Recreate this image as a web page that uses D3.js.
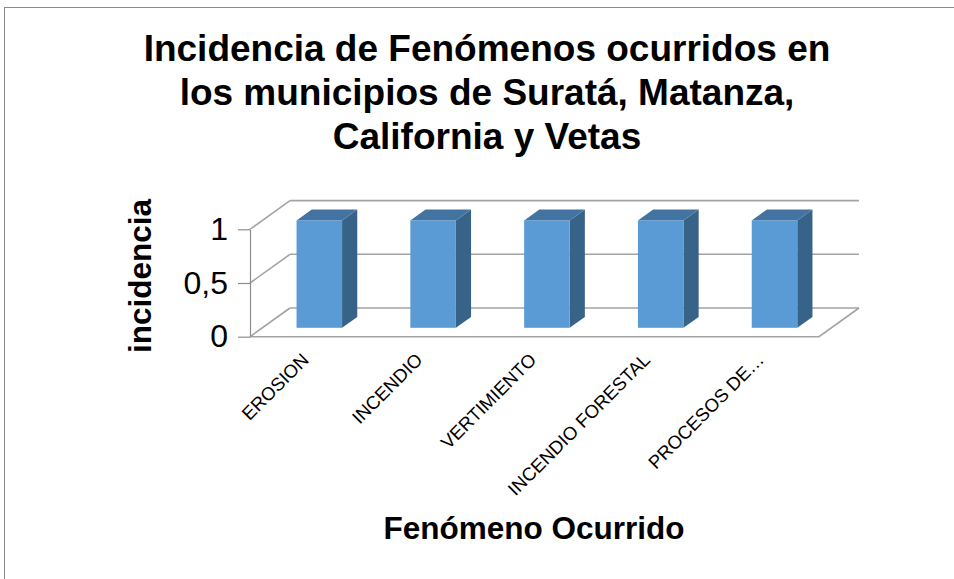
<!DOCTYPE html>
<html>
<head>
<meta charset="utf-8">
<script src="https://cdn.jsdelivr.net/npm/d3@7"></script>
<style>
  html, body { margin: 0; padding: 0; background: #fff; }
  svg { display: block; }
</style>
</head>
<body>
<script>
// chart data
const titleLines = ["Incidencia de Fenómenos ocurridos en", "los municipios de Suratá, Matanza,", "California y Vetas"];
const categories = ["EROSION", "INCENDIO", "VERTIMIENTO", "INCENDIO FORESTAL", "PROCESOS DE…"];
const incidencia = [1, 1, 1, 1, 1];
const yTicks = [0, 0.5, 1];
const xTitle = "Fenómeno Ocurrido";
const yTitle = "incidencia";

const width = 954, height = 579;
const font = "Arial, 'Liberation Sans', sans-serif";

// front plane of the 3D box
const plot = { left: 250, right: 819, top: 229.3, bottom: 336.7 };
const depth = { dx: 40, dy: 28.7 };     // offset of back wall
const barZ = [0.31, 0.69];               // bar depth inside the box

const svg = d3.select("body").append("svg")
    .attr("width", width)
    .attr("height", height)
    .attr("font-family", font);

// outer border (only top and left visible)
svg.append("rect")
    .attr("x", 4.5).attr("y", 7.5)
    .attr("width", 1000).attr("height", 1000)
    .attr("fill", "none")
    .attr("stroke", "#8a8a8a")
    .attr("stroke-width", 1);

const x = d3.scaleBand()
    .domain(categories)
    .range([plot.left, plot.right])
    .paddingInner(0.6)
    .paddingOuter(0.3);

const y = d3.scaleLinear()
    .domain([0, 1])
    .range([plot.bottom, plot.top]);

const grid = "#a3a3a3";
const g = svg.append("g");

// back wall gridlines + side wall diagonals
yTicks.forEach(v => {
    g.append("line")
        .attr("x1", plot.left + depth.dx).attr("y1", y(v) - depth.dy)
        .attr("x2", plot.right + depth.dx).attr("y2", y(v) - depth.dy)
        .attr("stroke", grid).attr("stroke-width", 1.6);
    g.append("line")
        .attr("x1", plot.left).attr("y1", y(v))
        .attr("x2", plot.left + depth.dx).attr("y2", y(v) - depth.dy)
        .attr("stroke", grid).attr("stroke-width", 1.6);
});

// floor front and right edge
g.append("path")
    .attr("d", d3.line()([
        [plot.left, y(0)],
        [plot.right, y(0)],
        [plot.right + depth.dx, y(0) - depth.dy]
    ]))
    .attr("fill", "none")
    .attr("stroke", grid).attr("stroke-width", 1.6);

// bars
const bw = x.bandwidth();
const zf = barZ[0], zd = barZ[1] - barZ[0];
const bars = g.selectAll("g.bar")
    .data(categories.map((c, i) => ({ c, v: incidencia[i] })))
    .join("g").attr("class", "bar");

bars.append("path")   // side
    .attr("d", d => {
        const x0 = x(d.c) + zf * depth.dx + bw, yt = y(d.v) - zf * depth.dy, yb = y(0) - zf * depth.dy;
        return d3.line()([[x0, yt], [x0 + zd * depth.dx, yt - zd * depth.dy], [x0 + zd * depth.dx, yb - zd * depth.dy], [x0, yb]]) + "Z";
    })
    .attr("fill", "#386389");

bars.append("path")   // top
    .attr("d", d => {
        const x0 = x(d.c) + zf * depth.dx, yt = y(d.v) - zf * depth.dy;
        return d3.line()([[x0, yt], [x0 + bw, yt], [x0 + bw + zd * depth.dx, yt - zd * depth.dy], [x0 + zd * depth.dx, yt - zd * depth.dy]]) + "Z";
    })
    .attr("fill", "#4373a1");

bars.append("rect")   // front
    .attr("x", d => x(d.c) + zf * depth.dx)
    .attr("y", d => y(d.v) - zf * depth.dy)
    .attr("width", bw)
    .attr("height", d => y(0) - y(d.v))
    .attr("fill", "#5b9bd5");

// y axis
const fmt = d3.formatLocale({ decimal: ",", thousands: ".", grouping: [3], currency: ["", ""] }).format("~g");
const yAxis = svg.append("g")
    .attr("transform", `translate(${plot.left},0)`)
    .call(d3.axisLeft(y).tickValues(yTicks).tickFormat(fmt).tickSize(12).tickSizeOuter(0).tickPadding(10));
yAxis.select(".domain").attr("stroke", "#8c8c8c").attr("stroke-width", 1.2);
yAxis.selectAll(".tick line").attr("stroke", "#8c8c8c").attr("stroke-width", 1.2);
yAxis.selectAll(".tick text")
    .attr("font-family", font)
    .attr("font-size", 32)
    .attr("fill", "#000");

// x tick labels (rotated)
svg.append("g").selectAll("text")
    .data(categories)
    .join("text")
    .attr("transform", d => `translate(${x(d) + bw / 2 + 3},${361}) rotate(-45)`)
    .attr("text-anchor", "end")
    .attr("font-size", 18.5)
    .attr("fill", "#000")
    .text(d => d);

// titles
svg.append("text")
    .attr("x", 487)
    .attr("text-anchor", "middle")
    .attr("font-size", 37)
    .attr("font-weight", "bold")
    .selectAll("tspan")
    .data(titleLines)
    .join("tspan")
    .attr("x", 487)
    .attr("y", (d, i) => 61 + i * 44)
    .text(d => d);

svg.append("text")
    .attr("x", 534).attr("y", 539)
    .attr("text-anchor", "middle")
    .attr("font-size", 31.5)
    .attr("font-weight", "bold")
    .text(xTitle);

svg.append("text")
    .attr("transform", "translate(151,276) rotate(-90)")
    .attr("text-anchor", "middle")
    .attr("font-size", 31.5)
    .attr("font-weight", "bold")
    .text(yTitle);
</script>
</body>
</html>
